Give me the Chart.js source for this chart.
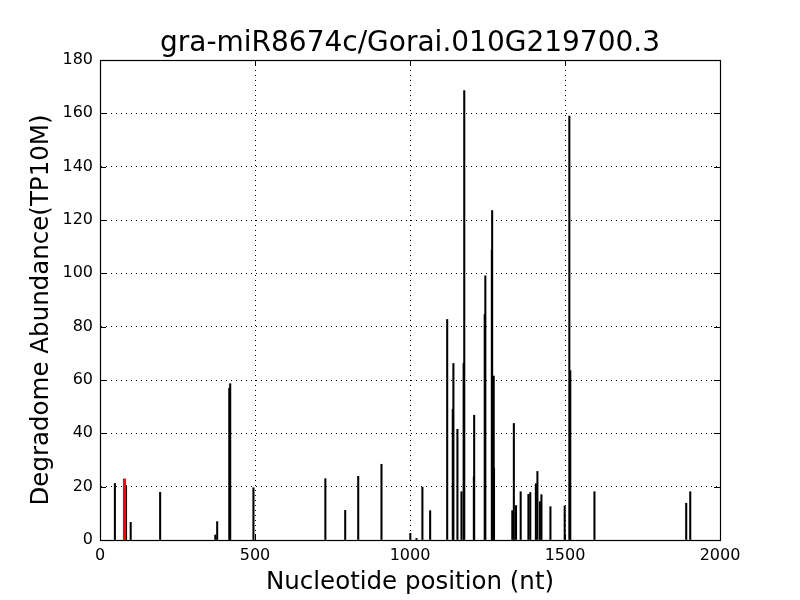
<!DOCTYPE html>
<html>
<head>
<meta charset="utf-8">
<title>gra-miR8674c/Gorai.010G219700.3</title>
<script src="https://cdn.jsdelivr.net/npm/chart.js@4.4.1/dist/chart.umd.min.js"></script>
<style>
  html, body { margin: 0; padding: 0; background: #fff; }
  #wrap { width: 800px; height: 600px; }
</style>
</head>
<body>
<div id="wrap"><canvas id="degChart" width="800" height="600"></canvas></div>
<script>
// posiciones (nt) y abundancias
const positions = [48, 84, 99, 194, 372, 378, 417, 420, 495, 727, 791, 833, 908,
  1001, 1021, 1040, 1065, 1120, 1138, 1140, 1153, 1166, 1173, 1175, 1206, 1207,
  1241, 1243, 1264, 1265, 1270, 1271, 1330, 1335, 1342, 1357, 1382, 1388, 1406,
  1411, 1419, 1424, 1453, 1499, 1514, 1517, 1595, 1891, 1904];
const abundance = [21.2, 20.4, 6.6, 17.9, 1.9, 6.9, 56.9, 58.6, 19.6, 23.0, 11.1, 23.9, 28.4,
  2.5, 0.6, 19.8, 11.0, 82.7, 49.0, 66.2, 41.5, 18.1, 66.3, 168.5, 23.7, 46.8,
  84.6, 99.1, 108.7, 123.5, 61.5, 27.0, 11.0, 43.7, 12.9, 18.1, 17.1, 17.8, 21.1,
  25.7, 14.4, 17.0, 12.5, 12.8, 159.0, 63.5, 18.1, 13.8, 18.1];

// sitio de corte del miRNA (en rojo)
const targetPositions = [79];
const targetAbundance = [22.9];

const xTicks = [0, 500, 1000, 1500, 2000];
const yTicks = [0, 20, 40, 60, 80, 100, 120, 140, 160, 180];

const chartTitle = "gra-miR8674c/Gorai.010G219700.3";
const yTitle = "Degradome Abundance(TP10M)";
const FONT = "'DejaVu Sans', sans-serif";

// marco negro + ticks hacia adentro + titulos
const framePlugin = {
  id: "frame",
  afterDatasetsDraw(chart) {
    const { ctx, chartArea: a, scales } = chart;
    ctx.save();
    ctx.strokeStyle = "#000";
    ctx.lineWidth = 1;
    ctx.beginPath();
    xTicks.forEach(t => {
      const px = Math.round(scales.x.getPixelForValue(t)) + 0.5;
      ctx.moveTo(px, a.bottom); ctx.lineTo(px, a.bottom - 6);
      ctx.moveTo(px, a.top); ctx.lineTo(px, a.top + 6);
    });
    yTicks.forEach(t => {
      const py = Math.round(scales.y.getPixelForValue(t)) + 0.5;
      ctx.moveTo(a.left, py); ctx.lineTo(a.left + 6, py);
      ctx.moveTo(a.right, py); ctx.lineTo(a.right - 6, py);
    });
    ctx.stroke();
    ctx.lineWidth = 1.2;
    ctx.strokeRect(Math.round(a.left) + 0.5, Math.round(a.top) + 0.5,
      Math.round(a.right - a.left), Math.round(a.bottom - a.top));

    ctx.fillStyle = "#000";
    ctx.textAlign = "center";
    ctx.textBaseline = "middle";
    ctx.font = "28px " + FONT;
    ctx.fillText(chartTitle, (a.left + a.right) / 2, 44);

    // titulo del eje y (un poco por debajo del centro, como en el original)
    ctx.translate(42, (a.top + a.bottom) / 2 + 10);
    ctx.rotate(-Math.PI / 2);
    ctx.font = "24.5px " + FONT;
    ctx.fillText(yTitle, 0, 0);
    ctx.restore();
  }
};

function initChart() {
  const ctx = document.getElementById("degChart");
  new Chart(ctx, {
    type: "bar",
    data: {
      datasets: [
        {
          data: targetPositions.map((p, i) => ({ x: p, y: targetAbundance[i] })),
          backgroundColor: "#ff0000",
          barThickness: 2.5,
          order: 0
        },
        {
          data: positions.map((p, i) => ({ x: p, y: abundance[i] })),
          backgroundColor: "#000000",
          barThickness: 1.4,
          order: 1
        }
      ]
    },
    options: {
      responsive: false,
      animation: false,
      layout: { padding: { left: 0, right: 80, top: 60, bottom: 0 } },
      plugins: {
        legend: { display: false },
        tooltip: { enabled: false },
        title: { display: false }
      },
      datasets: { bar: { grouped: false } },
      scales: {
        x: {
          type: "linear",
          min: 0,
          max: 2000,
          offset: false,
          afterFit: s => { s.height = 60; },
          afterBuildTicks: s => { s.ticks = xTicks.map(v => ({ value: v })); },
          grid: { offset: false, color: "#000", lineWidth: 1, drawTicks: false },
          border: { display: true, color: "#000", dash: [1, 4] },
          ticks: {
            color: "#000", font: { family: FONT, size: 16 }, padding: 6, maxRotation: 0,
            callback: v => String(v)
          },
          title: {
            display: true,
            text: "Nucleotide position (nt)",
            color: "#000",
            font: { family: FONT, size: 24.5 },
            padding: { top: 0, bottom: 3 }
          }
        },
        y: {
          min: 0,
          max: 180,
          afterFit: s => { s.width = 100; },
          afterBuildTicks: s => { s.ticks = yTicks.map(v => ({ value: v })); },
          grid: { color: "#000", lineWidth: 1, drawTicks: false },
          border: { display: true, color: "#000", dash: [1, 4] },
          ticks: { color: "#000", font: { family: FONT, size: 16 }, padding: 7 },
          title: { display: false }
        }
      }
    },
    plugins: [framePlugin]
  });
}

document.addEventListener("DOMContentLoaded", initChart);
</script>
</body>
</html>
